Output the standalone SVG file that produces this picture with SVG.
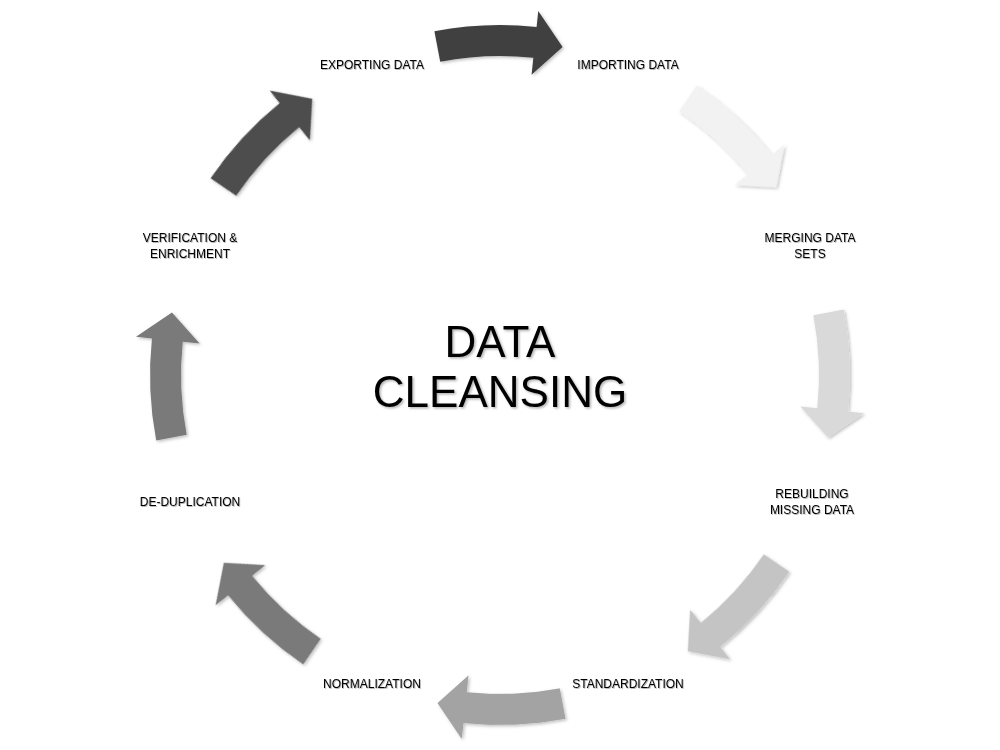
<svg xmlns="http://www.w3.org/2000/svg" width="1000" height="750" viewBox="0 0 1000 750">
<defs>
<filter id="sh" x="-20%" y="-20%" width="140%" height="140%">
<feDropShadow dx="1.5" dy="1.5" stdDeviation="1.5" flood-color="#000" flood-opacity="0.25"/>
</filter>
<filter id="tsh" x="-10%" y="-10%" width="120%" height="130%">
<feDropShadow dx="1.5" dy="1.5" stdDeviation="1" flood-color="#000" flood-opacity="0.3"/>
</filter>
<filter id="lsh" x="-10%" y="-30%" width="120%" height="160%">
<feDropShadow dx="0.8" dy="0.8" stdDeviation="0.6" flood-color="#000" flood-opacity="0.35"/>
</filter>
<path id="arr" d="M343.80,-65.58 A350,350 0 0 1 348.08,36.59 L364.00,38.26 L328.08,62.58 L300.35,31.57 L317.25,33.35 A319,319 0 0 0 313.35,-59.77 Z"/>
</defs>
<style>
.lbl{font-family:"Liberation Sans",Arial,sans-serif;font-size:12px;fill:#000;text-anchor:middle}
.ttl{font-family:"Liberation Sans",Arial,sans-serif;font-size:44px;fill:#000;text-anchor:middle}
</style>
<rect width="1000" height="750" fill="#fff"/>
<g id="connectors" transform="translate(500,375)" filter="url(#sh)">
<use href="#arr" transform="rotate(-90)" fill="#404040"/>
<use href="#arr" transform="rotate(-45)" fill="#f2f2f2"/>
<use href="#arr" transform="rotate(0)" fill="#d9d9d9"/>
<use href="#arr" transform="rotate(45)" fill="#c4c4c4"/>
<use href="#arr" transform="rotate(90)" fill="#a3a3a3"/>
<use href="#arr" transform="rotate(135)" fill="#7a7a7a"/>
<use href="#arr" transform="rotate(180)" fill="#7a7a7a"/>
<use href="#arr" transform="rotate(225)" fill="#4d4d4d"/>
</g>
<g id="title" filter="url(#tsh)">
<text class="ttl" x="500" y="357">DATA</text>
<text class="ttl" x="500" y="407">CLEANSING</text>
</g>
<g filter="url(#lsh)">
<g id="n-exporting"><text class="lbl" x="372" y="69">EXPORTING DATA</text></g>
<g id="n-importing"><text class="lbl" x="628" y="69">IMPORTING DATA</text></g>
<g id="n-merging"><text class="lbl" x="810" y="242">MERGING DATA</text><text class="lbl" x="810" y="258">SETS</text></g>
<g id="n-rebuilding"><text class="lbl" x="812" y="498">REBUILDING</text><text class="lbl" x="812" y="514">MISSING DATA</text></g>
<g id="n-standardization"><text class="lbl" x="628" y="688">STANDARDIZATION</text></g>
<g id="n-normalization"><text class="lbl" x="372" y="688">NORMALIZATION</text></g>
<g id="n-dedup"><text class="lbl" x="190" y="506">DE-DUPLICATION</text></g>
<g id="n-verification"><text class="lbl" x="190" y="242">VERIFICATION &amp;</text><text class="lbl" x="190" y="258">ENRICHMENT</text></g>
</g>
</svg>
